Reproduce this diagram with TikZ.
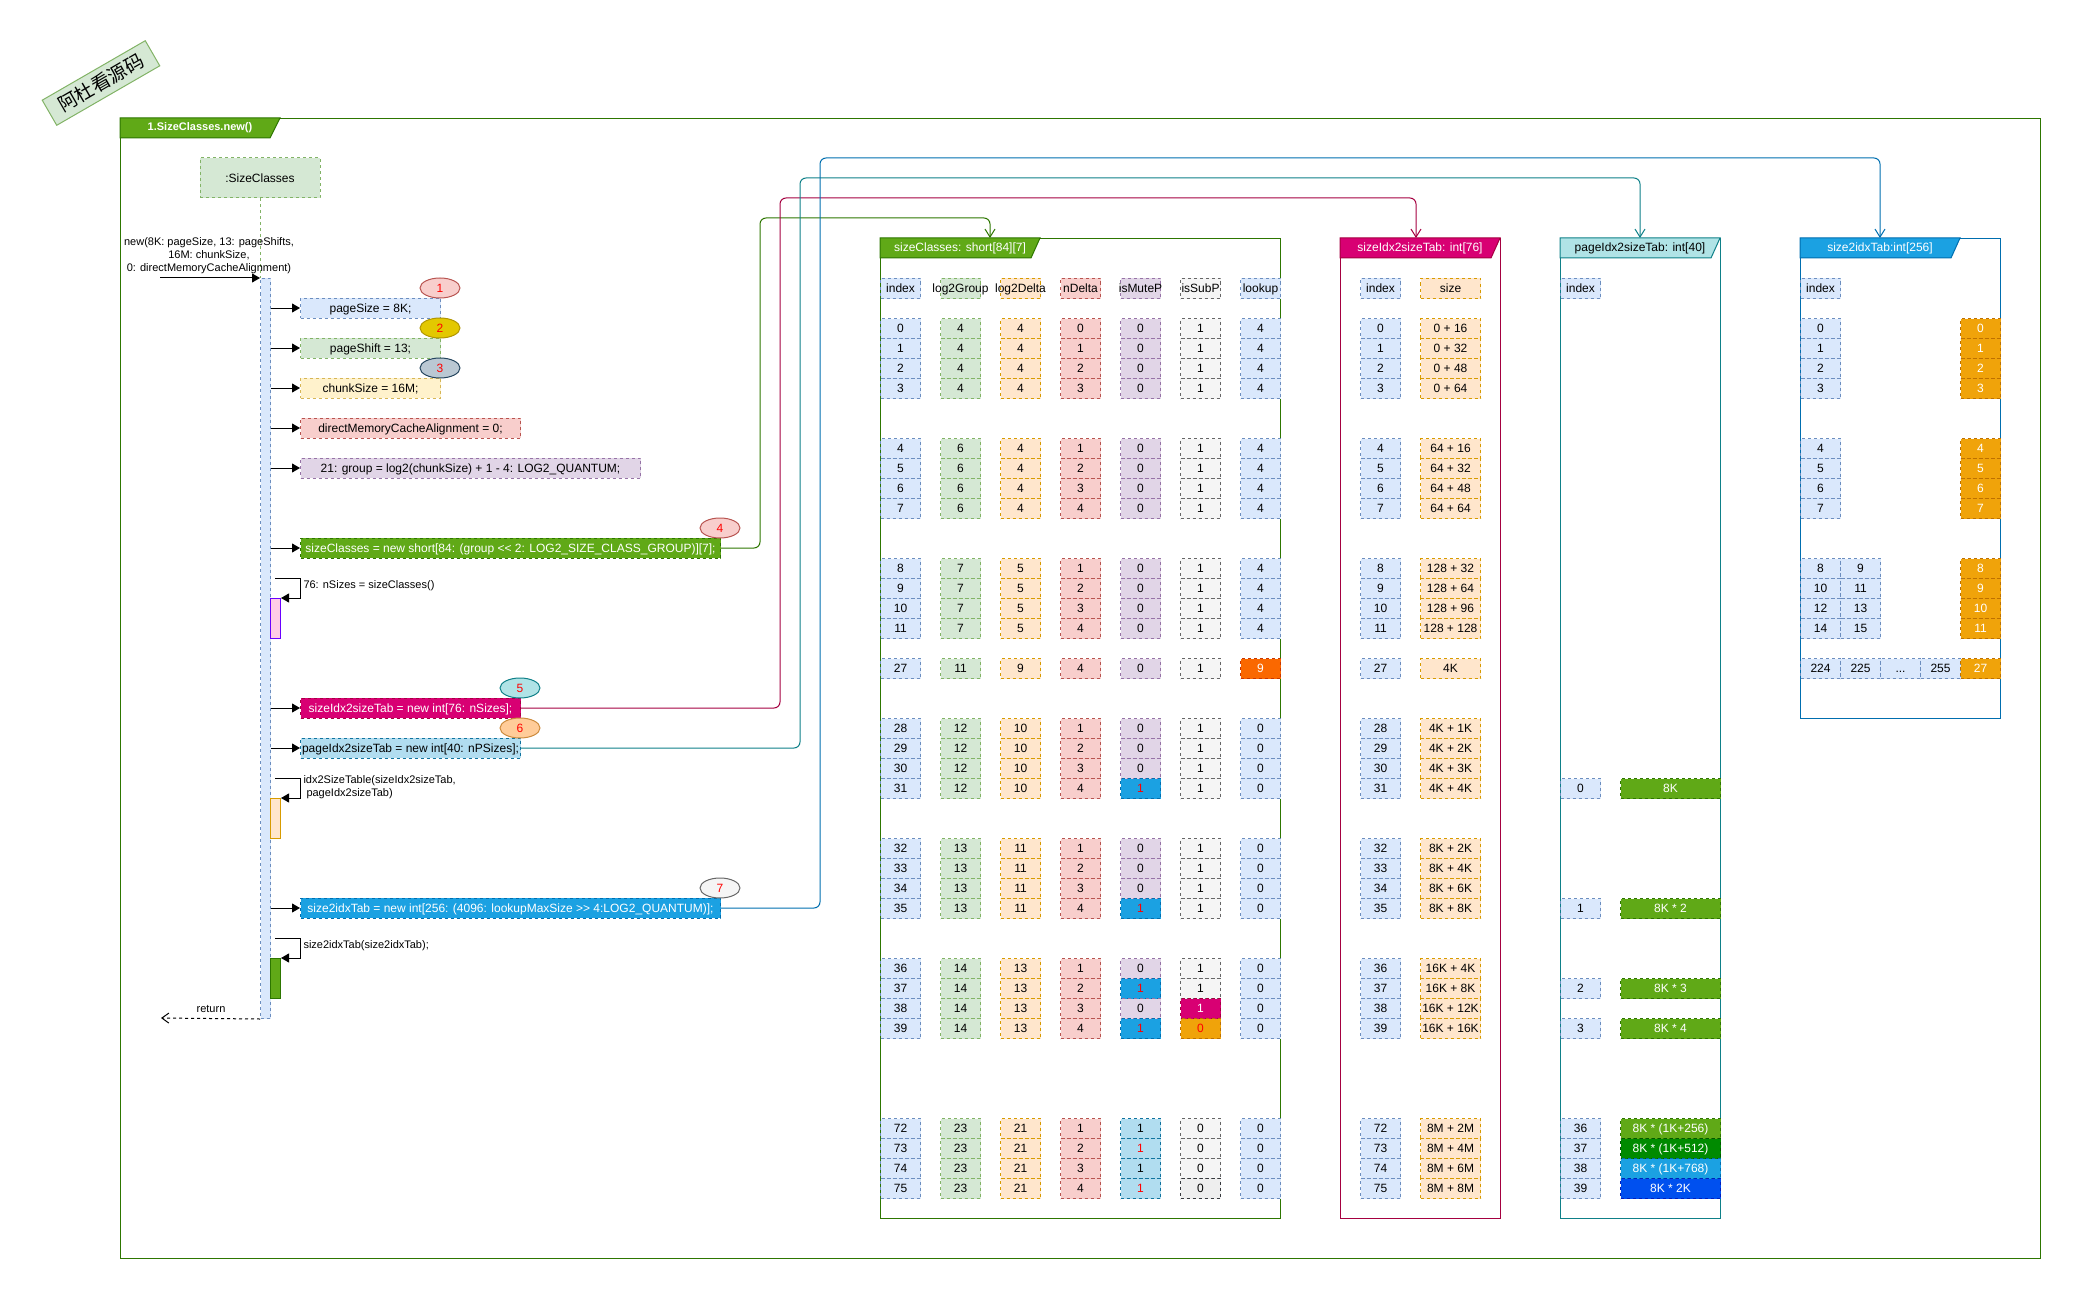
\documentclass[tikz,border=0pt]{standalone}
\usepackage{fontspec}
\setmainfont{Liberation Sans}[Ligatures=TeXOff]
\newfontfamily\cjkfont{Noto Sans CJK SC}
\usetikzlibrary{arrows.meta,shapes.geometric}

\definecolor{blueF}{HTML}{DAE8FC}\definecolor{blueD}{HTML}{6C8EBF}
\definecolor{greenF}{HTML}{D5E8D4}\definecolor{greenD}{HTML}{82B366}
\definecolor{orangeF}{HTML}{FFE6CC}\definecolor{orangeD}{HTML}{D79B00}
\definecolor{redF}{HTML}{F8CECC}\definecolor{redD}{HTML}{B85450}
\definecolor{purpleF}{HTML}{E1D5E7}\definecolor{purpleD}{HTML}{9673A6}
\definecolor{grayF}{HTML}{F5F5F5}\definecolor{grayD}{HTML}{666666}
\definecolor{grayE}{HTML}{EEEEEE}\definecolor{grayE2}{HTML}{36393D}
\definecolor{yellowF}{HTML}{FFF2CC}\definecolor{yellowD}{HTML}{D6B656}
\definecolor{lgreenF}{HTML}{60A917}\definecolor{lgreenD}{HTML}{2D7600}
\definecolor{magF}{HTML}{D80073}\definecolor{magD}{HTML}{A50040}
\definecolor{cyanF}{HTML}{1BA1E2}\definecolor{cyanD}{HTML}{006EAF}
\definecolor{tealF}{HTML}{B0E3E6}\definecolor{tealD}{HTML}{0E8088}
\definecolor{skyF}{HTML}{B1DDF0}\definecolor{skyD}{HTML}{10739E}
\definecolor{amberF}{HTML}{F0A30A}\definecolor{amberD}{HTML}{BD7000}
\definecolor{flameF}{HTML}{FA6800}\definecolor{flameD}{HTML}{C73500}
\definecolor{emerF}{HTML}{008A00}\definecolor{emerD}{HTML}{005700}
\definecolor{cobaltF}{HTML}{0050EF}\definecolor{cobaltD}{HTML}{001DBC}
\definecolor{goldF}{HTML}{E3C800}\definecolor{goldD}{HTML}{B09500}
\definecolor{slateF}{HTML}{BAC8D3}\definecolor{slateD}{HTML}{23445D}
\definecolor{peachF}{HTML}{FFCC99}\definecolor{peachD}{HTML}{CC8A3C}
\definecolor{pinkF}{HTML}{FFCCE6}\definecolor{violetD}{HTML}{6A00FF}

\newcommand\fszL{\fontsize{12}{14}\selectfont}
\newcommand\fszS{\fontsize{11}{13}\selectfont}
\newcommand\zw[1]{\makebox[0pt][c]{#1}}

\tikzset{
  paint/.style={#1},
  dsh/.style={dash pattern=on 3pt off 3pt},
  cell/.style={draw, dsh, minimum width=40pt, minimum height=20pt, inner sep=0pt,
    anchor=north west, font=\fszL, text height=8.8pt, text depth=0.4pt},
  cI/.style={fill=blueF, draw=blueD},
  cG/.style={fill=greenF, draw=greenD},
  cD/.style={fill=orangeF, draw=orangeD},
  cN/.style={fill=redF, draw=redD},
  cM/.style={fill=purpleF, draw=purpleD},
  cS/.style={fill=grayF, draw=grayD},
  cS2/.style={fill=grayE, draw=grayE2},
  cY/.style={fill=yellowF, draw=yellowD},
  xBlue/.style={fill=cyanF, draw=cyanD, text=red},
  xMag/.style={fill=magF, draw=magD, text=white},
  xAmb/.style={fill=amberF, draw=amberD, text=red},
  xAmbW/.style={fill=amberF, draw=amberD, text=white},
  xFlame/.style={fill=flameF, draw=flameD, text=white},
  xSky/.style={fill=skyF, draw=skyD},
  xSkyR/.style={fill=skyF, draw=skyD, text=red},
  pG/.style={fill=lgreenF, draw=lgreenD, text=white},
  pE/.style={fill=emerF, draw=emerD, text=white},
  pC/.style={fill=cyanF, draw=cyanD, text=white},
  pB/.style={fill=cobaltF, draw=cobaltD, text=white},
  mbox/.style={draw, dsh, anchor=west, minimum height=20pt, inner sep=0pt,
    font=\fszL, text height=8.8pt, text depth=0.4pt},
  numE/.style={ellipse, draw, minimum width=40pt, minimum height=20pt, inner sep=0pt,
    font=\fszL, text=red},
  act/.style={draw, anchor=north west, minimum width=10pt, minimum height=40pt, inner sep=0pt},
  lbl/.style={font=\fszS, inner sep=0pt},
  msg/.style={-{Triangle[length=8pt,width=9pt]}},
  ret/.style={dsh, -{Straight Barb[length=7pt,width=10pt]}},
  conn/.style={rounded corners=6pt, -{Straight Barb[length=8pt,width=10pt]}},
  frame/.style={draw, anchor=north west, inner sep=0pt},
  ttl/.style={font=\fszL, inner sep=0pt},
}

\begin{document}
\begin{tikzpicture}[x=1pt,y=-1pt,line width=1pt]
\useasboundingbox (0,0) rectangle (2081,1300);

% watermark
\node[draw=greenD, fill=greenF, rotate=30, minimum width=119pt, minimum height=29pt,
  inner sep=0pt, font=\cjkfont\fontsize{19}{21}\selectfont] (mark) at (101,83) {阿杜看源码};

% outer frame
\node[frame, draw=lgreenD, minimum width=1920pt, minimum height=1140pt] (outer) at (120,118) {};
\filldraw[fill=lgreenF, draw=lgreenD] (120,118) -- (280,118) -- (270,138) -- (120,138) -- cycle;
\node[ttl, text=white, font=\bfseries\fszS] (outerT) at (200,128) {1.SizeClasses.new()};

% ---------- sequence part ----------
\node[draw=greenD, fill=greenF, dsh, minimum width=120pt, minimum height=40pt, inner sep=0pt,
  font=\fszL] (life) at (260,178) {:SizeClasses};
\node[act, fill=blueF, draw=blueD, dsh, minimum height=740pt] (bar) at (260,278) {};
\draw[greenD, dsh] (life.south) -- (bar.north west);

\coordinate (newFrom) at (160,278);
\draw[msg] (newFrom) -- (bar.north west);
\node[lbl, align=center] (newL) at (209,256) {new(8K: pageSize, 13: pageShifts,\\16M: chunkSize,\\0: directMemoryCacheAlignment)};

\node[mbox, cI, minimum width=140pt] (m1) at (300,308) {\zw{pageSize = 8K;}};
\node[mbox, cG, minimum width=140pt] (m2) at (300,348) {\zw{pageShift = 13;}};
\node[mbox, cY, minimum width=140pt] (m3) at (300,388) {\zw{chunkSize = 16M;}};
\node[mbox, cN, minimum width=220pt] (m4) at (300,428) {\zw{directMemoryCacheAlignment = 0;}};
\node[mbox, cM, minimum width=340pt] (m5) at (300,468) {\zw{21: group = log2(chunkSize) + 1 - 4: LOG2\_QUANTUM;}};
\node[mbox, pG, minimum width=420pt] (m6) at (300,548) {\zw{sizeClasses = new short[84: (group << 2: LOG2\_SIZE\_CLASS\_GROUP)][7];}};
\node[mbox, xMag, minimum width=220pt] (m7) at (300,708) {\zw{sizeIdx2sizeTab = new int[76: nSizes];}};
\node[mbox, xSky, minimum width=220pt] (m8) at (300,748) {\zw{pageIdx2sizeTab = new int[40: nPSizes];}};
\node[mbox, pC, minimum width=420pt] (m9) at (300,908) {\zw{size2idxTab = new int[256: (4096: lookupMaxSize >> 4:LOG2\_QUANTUM)];}};

\foreach \m in {m1,m2,m3,m4,m5,m6,m7,m8,m9}
  \draw[msg] (bar.east |- \m.west) -- (\m.west);

\node[numE, fill=redF, draw=redD] (n1) at (440,288) {1};
\node[numE, fill=goldF, draw=goldD] (n2) at (440,328) {2};
\node[numE, fill=slateF, draw=slateD] (n3) at (440,368) {3};
\node[numE, fill=redF, draw=redD] (n4) at (720,528) {4};
\node[numE, fill=tealF, draw=tealD] (n5) at (520,688) {5};
\node[numE, fill=peachF, draw=peachD] (n6) at (520,728) {6};
\node[numE, fill=grayF, draw=grayD] (n7) at (720,888) {7};

% self calls
\node[act, fill=pinkF, draw=violetD] (a1) at (270,598) {};
\coordinate (c1) at (275,578);
\draw[msg] (c1) -- (300,578) -- (300,598) -- (a1.north east);
\node[lbl, anchor=west] (l1) at (303,586) {76: nSizes = sizeClasses()};

\node[act, fill=orangeF, draw=orangeD] (a2) at (270,798) {};
\coordinate (c2) at (275,778);
\draw[msg] (c2) -- (300,778) -- (300,798) -- (a2.north east);
\node[lbl, anchor=west, align=left] (l2) at (303,787) {idx2SizeTable(sizeIdx2sizeTab,\\\hspace*{3pt}pageIdx2sizeTab)};

\node[act, fill=lgreenF, draw=lgreenD] (a3) at (270,958) {};
\coordinate (c3) at (275,938);
\draw[msg] (c3) -- (300,938) -- (300,958) -- (a3.north east);
\node[lbl, anchor=west] (l3) at (303,946) {size2idxTab(size2idxTab);};

\coordinate (retTo) at (161,1018);
\draw[ret] (bar.south west) -- (retTo);
\node[lbl] (retL) at (211,1009) {return};

% ---------- sizeClasses table ----------
\node[frame, draw=lgreenD, minimum width=400pt, minimum height=980pt] (scF) at (880,238) {};
\filldraw[fill=lgreenF, draw=lgreenD] (880,238) -- (1040,238) -- (1031,258) -- (880,258) -- cycle;
\node[ttl, text=white] (scT) at (960,248) {sizeClasses: short[84][7]};

\node[cell, cI] (scH0) at (880,278) {\zw{index}};
\node[cell, cG] (scH1) at (940,278) {\zw{log2Group}};
\node[cell, cD] (scH2) at (1000,278) {\zw{log2Delta}};
\node[cell, cN] (scH3) at (1060,278) {\zw{nDelta}};
\node[cell, cM] (scH4) at (1120,278) {\zw{isMuteP}};
\node[cell, cS] (scH5) at (1180,278) {\zw{isSubP}};
\node[cell, cI] (scH6) at (1240,278) {\zw{lookup}};

\foreach \y/\i/\g/\d/\n/\m/\ms/\s/\ss/\l/\ls in {
  318/0/4/4/0/0/cM/1/cS/4/cI, 338/1/4/4/1/0/cM/1/cS/4/cI,
  358/2/4/4/2/0/cM/1/cS/4/cI, 378/3/4/4/3/0/cM/1/cS/4/cI,
  438/4/6/4/1/0/cM/1/cS/4/cI, 458/5/6/4/2/0/cM/1/cS/4/cI,
  478/6/6/4/3/0/cM/1/cS/4/cI, 498/7/6/4/4/0/cM/1/cS/4/cI,
  558/8/7/5/1/0/cM/1/cS/4/cI, 578/9/7/5/2/0/cM/1/cS/4/cI,
  598/10/7/5/3/0/cM/1/cS/4/cI, 618/11/7/5/4/0/cM/1/cS/4/cI,
  658/27/11/9/4/0/cM/1/cS/9/xFlame,
  718/28/12/10/1/0/cM/1/cS/0/cI, 738/29/12/10/2/0/cM/1/cS/0/cI,
  758/30/12/10/3/0/cM/1/cS/0/cI, 778/31/12/10/4/1/xBlue/1/cS/0/cI,
  838/32/13/11/1/0/cM/1/cS/0/cI, 858/33/13/11/2/0/cM/1/cS/0/cI,
  878/34/13/11/3/0/cM/1/cS/0/cI, 898/35/13/11/4/1/xBlue/1/cS/0/cI,
  958/36/14/13/1/0/cM/1/cS/0/cI, 978/37/14/13/2/1/xBlue/1/cS/0/cI,
  998/38/14/13/3/0/cM/1/xMag/0/cI, 1018/39/14/13/4/1/xBlue/0/xAmb/0/cI,
  1118/72/23/21/1/1/xSky/0/cS/0/cI, 1138/73/23/21/2/1/xSkyR/0/cS/0/cI,
  1158/74/23/21/3/1/xSky/0/cS/0/cI, 1178/75/23/21/4/1/xSkyR/0/cS2/0/cI}{
  \node[cell, cI] (sc-\i-0) at (880,\y) {\zw{\i}};
  \node[cell, cG] (sc-\i-1) at (940,\y) {\zw{\g}};
  \node[cell, cD] (sc-\i-2) at (1000,\y) {\zw{\d}};
  \node[cell, cN] (sc-\i-3) at (1060,\y) {\zw{\n}};
  \node[cell, paint/.expand once=\ms] (sc-\i-4) at (1120,\y) {\zw{\m}};
  \node[cell, paint/.expand once=\ss] (sc-\i-5) at (1180,\y) {\zw{\s}};
  \node[cell, paint/.expand once=\ls] (sc-\i-6) at (1240,\y) {\zw{\l}};
}

% ---------- sizeIdx2sizeTab ----------
\node[frame, draw=magD, minimum width=160pt, minimum height=980pt] (siF) at (1340,238) {};
\filldraw[fill=magF, draw=magD] (1340,238) -- (1500,238) -- (1491,258) -- (1340,258) -- cycle;
\node[ttl, text=white] (siT) at (1420,248) {sizeIdx2sizeTab: int[76]};
\node[cell, cI] (siH0) at (1360,278) {\zw{index}};
\node[cell, cD, minimum width=60pt] (siH1) at (1420,278) {\zw{size}};
\foreach \y/\i/\s in {
  318/0/0 + 16, 338/1/0 + 32, 358/2/0 + 48, 378/3/0 + 64,
  438/4/64 + 16, 458/5/64 + 32, 478/6/64 + 48, 498/7/64 + 64,
  558/8/128 + 32, 578/9/128 + 64, 598/10/128 + 96, 618/11/128 + 128,
  658/27/4K,
  718/28/4K + 1K, 738/29/4K + 2K, 758/30/4K + 3K, 778/31/4K + 4K,
  838/32/8K + 2K, 858/33/8K + 4K, 878/34/8K + 6K, 898/35/8K + 8K,
  958/36/16K + 4K, 978/37/16K + 8K, 998/38/16K + 12K, 1018/39/16K + 16K,
  1118/72/8M + 2M, 1138/73/8M + 4M, 1158/74/8M + 6M, 1178/75/8M + 8M}{
  \node[cell, cI] (si-\i-0) at (1360,\y) {\zw{\i}};
  \node[cell, cD, minimum width=60pt] (si-\i-1) at (1420,\y) {\zw{\s}};
}

% ---------- pageIdx2sizeTab ----------
\node[frame, draw=tealD, minimum width=160pt, minimum height=980pt] (piF) at (1560,238) {};
\filldraw[fill=tealF, draw=tealD] (1560,238) -- (1720,238) -- (1711,258) -- (1560,258) -- cycle;
\node[ttl] (piT) at (1640,248) {pageIdx2sizeTab: int[40]};
\node[cell, cI] (piH0) at (1560,278) {\zw{index}};
\foreach \y/\i/\v/\st in {
  778/0/8K/pG, 898/1/8K * 2/pG, 978/2/8K * 3/pG, 1018/3/8K * 4/pG,
  1118/36/8K * (1K+256)/pG, 1138/37/8K * (1K+512)/pE,
  1158/38/8K * (1K+768)/pC, 1178/39/8K * 2K/pB}{
  \node[cell, cI] (pi-\i-0) at (1560,\y) {\zw{\i}};
  \node[cell, paint/.expand once=\st, minimum width=100pt] (pi-\i-1) at (1620,\y) {\zw{\v}};
}

% ---------- size2idxTab ----------
\node[frame, draw=cyanD, minimum width=200pt, minimum height=480pt] (s2F) at (1800,238) {};
\filldraw[fill=cyanF, draw=cyanD] (1800,238) -- (1960,238) -- (1951,258) -- (1800,258) -- cycle;
\node[ttl, text=white] (s2T) at (1880,248) {size2idxTab:int[256]};
\node[cell, cI] (s2H0) at (1800,278) {\zw{index}};
\foreach \y/\i in {318/0, 338/1, 358/2, 378/3, 438/4, 458/5, 478/6, 498/7}{
  \node[cell, cI] (s2-\i-0) at (1800,\y) {\zw{\i}};
  \node[cell, xAmbW] (s2-\i-1) at (1960,\y) {\zw{\i}};
}
\foreach \y/\a/\b/\v in {558/8/9/8, 578/10/11/9, 598/12/13/10, 618/14/15/11}{
  \node[cell, cI] (s2-\a-0) at (1800,\y) {\zw{\a}};
  \node[cell, cI] (s2-\b-0) at (1840,\y) {\zw{\b}};
  \node[cell, xAmbW] (s2-\a-1) at (1960,\y) {\zw{\v}};
}
\node[cell, cI] (s2-224) at (1800,658) {\zw{224}};
\node[cell, cI] (s2-225) at (1840,658) {\zw{225}};
\node[cell, cI] (s2-dots) at (1880,658) {\zw{...}};
\node[cell, cI] (s2-255) at (1920,658) {\zw{255}};
\node[cell, xAmbW] (s2-val) at (1960,658) {\zw{27}};

% ---------- connectors to the arrays ----------
\coordinate (scIn) at (990,238);
\coordinate (siIn) at (1416,238);
\coordinate (piIn) at (1640,238);
\coordinate (s2In) at (1880,238);
\draw[conn, lgreenD] (m6.east) -| (760,218) -| (scIn);
\draw[conn, magD] (m7.east) -| (780,198) -| (siIn);
\draw[conn, tealD] (m8.east) -| (800,178) -| (piIn);
\draw[conn, cyanD] (m9.east) -| (820,158) -| (s2In);
\end{tikzpicture}
\end{document}
